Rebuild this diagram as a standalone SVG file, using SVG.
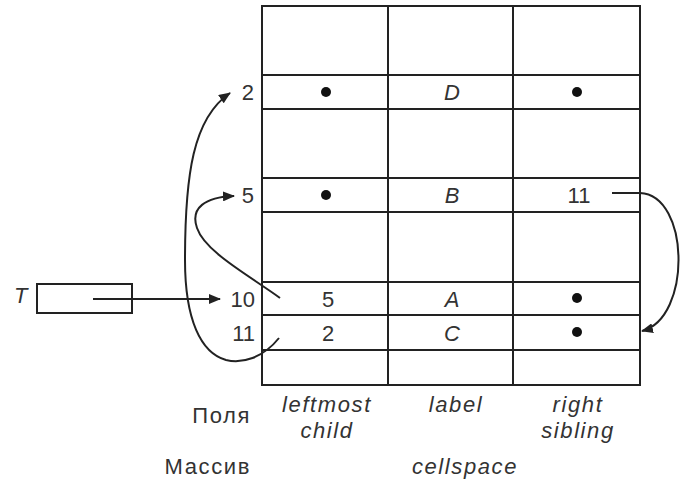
<svg xmlns="http://www.w3.org/2000/svg" width="682" height="484" viewBox="0 0 682 484">
<style>
.ln{stroke:#222;stroke-width:2;fill:none}
.t{font-family:"Liberation Sans",Arial,sans-serif;font-size:22px;fill:#333}
.i{font-style:italic}
.w{letter-spacing:1.6px}
.m{text-anchor:middle}
.e{text-anchor:end}
.dot{fill:#111}
.cn{stroke:#222;stroke-width:2;fill:none}
</style>
<defs>
<marker id="ah" markerWidth="12" markerHeight="10" refX="11" refY="5" orient="auto" markerUnits="userSpaceOnUse">
<path d="M0,0 L12,5 L0,10 Z" fill="#222"/>
</marker>
</defs>
<rect width="682" height="484" fill="#fff"/>
<g id="table">
<rect class="ln" x="262" y="6" width="378" height="379"/>
<line class="ln" x1="388" y1="6" x2="388" y2="385"/>
<line class="ln" x1="513" y1="6" x2="513" y2="385"/>
<line class="ln" x1="262" y1="75" x2="640" y2="75"/>
<line class="ln" x1="262" y1="109" x2="640" y2="109"/>
<line class="ln" x1="262" y1="178" x2="640" y2="178"/>
<line class="ln" x1="262" y1="212" x2="640" y2="212"/>
<line class="ln" x1="262" y1="282" x2="640" y2="282"/>
<line class="ln" x1="262" y1="315" x2="640" y2="315"/>
<line class="ln" x1="262" y1="350" x2="640" y2="350"/>
</g>
<g id="row2">
<text class="t e" x="254" y="100">2</text>
<circle class="dot" cx="326" cy="92" r="5"/>
<text class="t i m" x="452" y="100">D</text>
<circle class="dot" cx="577" cy="92" r="5"/>
</g>
<g id="row5">
<text class="t e" x="254" y="203">5</text>
<circle class="dot" cx="326" cy="195" r="5"/>
<text class="t i m" x="452" y="203">B</text>
<text class="t m" x="579" y="203">11</text>
</g>
<g id="row10">
<text class="t e" x="255" y="307">10</text>
<text class="t m" x="328" y="307">5</text>
<text class="t i m" x="452" y="307">A</text>
<circle class="dot" cx="577" cy="298" r="5"/>
</g>
<g id="row11">
<text class="t e" x="255" y="341">11</text>
<text class="t m" x="328" y="341">2</text>
<text class="t i m" x="452" y="341">C</text>
<circle class="dot" cx="577" cy="332" r="5"/>
</g>
<g id="T">
<text class="t i" x="14" y="303">T</text>
<rect class="ln" x="37" y="284" width="95" height="29"/>
</g>
<g id="labels">
<text class="t w e" x="251" y="423">Поля</text>
<text class="t w e" x="251" y="474">Массив</text>
<text class="t i w m" x="327" y="412">leftmost</text>
<text class="t i w m" x="327" y="438">child</text>
<text class="t i w m" x="456" y="412">label</text>
<text class="t i w m" x="578" y="412">right</text>
<text class="t i w m" x="578" y="438">sibling</text>
<text class="t i w m" x="465" y="474">cellspace</text>
</g>
<g id="connectors">
<path class="cn" d="M93,299 H220" marker-end="url(#ah)"/>
<path class="cn" d="M280,298 C250,276 205,252 197,228 C190,208 205,197 234,196" marker-end="url(#ah)"/>
<path class="cn" d="M279,338 C263,358 242,364 226,360 C201,353 185,320 185,260 C185,175 193,118 230,93" marker-end="url(#ah)"/>
<path class="cn" d="M612,193 H640 C690,195 692,318 642,331" marker-end="url(#ah)"/>
</g>
</svg>
